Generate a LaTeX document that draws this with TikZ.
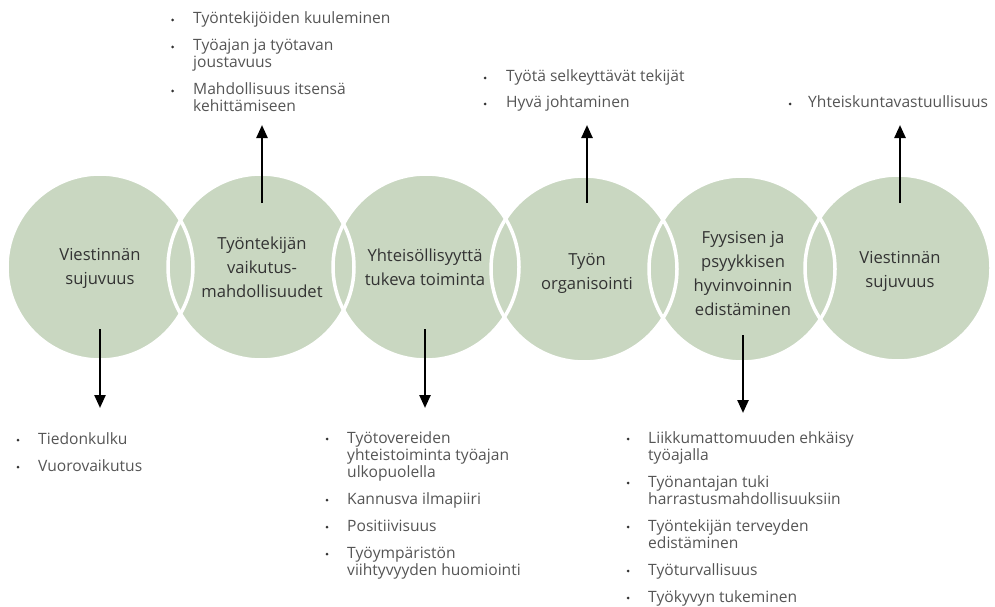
\documentclass[tikz,border=0pt]{standalone}
\usepackage{fontspec}
\setmainfont{Open Sans}
\usetikzlibrary{arrows.meta}
\definecolor{discfill}{HTML}{C9D7C1}
\definecolor{titleink}{HTML}{333333}
\definecolor{listink}{HTML}{555555}
\tikzset{
  disc/.style={circle, fill=discfill, minimum size=186pt, inner sep=0pt},
  rim/.style={draw=white, line width=3.5pt},
  title/.style={align=center, text=titleink, inner sep=0pt, font=\fontsize{16.6}{24}\selectfont},
  entry/.style={anchor=base west, inner sep=0pt, text=listink, font=\fontsize{15.6}{17}\selectfont},
  dot/.style={circle, fill=black!80, minimum size=3pt, inner sep=0pt},
  link/.style={line width=2.4pt, -{Triangle[width=11pt,length=13pt]}},
}
\begin{document}
\begin{tikzpicture}[x=1pt, y=-1pt]
\useasboundingbox (0,0) rectangle (995,607);

% discs: fill first, white rims on top so both arcs of every lens show
\node[disc] (c1) at (100,267) {};
\node[disc] (c2) at (261,267) {};
\node[disc] (c3) at (426,267) {};
\node[disc] (c4) at (584,269) {};
\node[disc] (c5) at (742,269) {};
\node[disc] (c6) at (898,268) {};
\foreach \n in {c1,c2,c3,c4,c5,c6}
  \draw[rim] (\n.center) circle[radius=93];

% disc titles
\node[title] (t1) at (100,268) {Viestinnän\\sujuvuus};
\node[title] (t2) at (262,267) {Työntekijän\\vaikutus-\\mahdollisuudet};
\node[title] (t3) at (425,267) {Yhteisöllisyyttä\\tukeva toiminta};
\node[title] (t4) at (587,273) {Työn\\organisointi};
\node[title] (t5) at (743,273) {Fyysisen ja\\psyykkisen\\hyvinvoinnin\\edistäminen};
\node[title] (t6) at (900,271) {Viestinnän\\sujuvuus};

% arrow ends
\coordinate (a1s) at (100,329); \coordinate (a1e) at (100,408);
\coordinate (a2s) at (262,203); \coordinate (a2e) at (262,125);
\coordinate (a3s) at (425,329); \coordinate (a3e) at (425,408);
\coordinate (a4s) at (587,203); \coordinate (a4e) at (587,125);
\coordinate (a5s) at (743,335); \coordinate (a5e) at (743,413);
\coordinate (a6s) at (900,203); \coordinate (a6e) at (900,125);
\foreach \i in {1,...,6}
  \draw[link] (a\i s) -- (a\i e);

% list above disc 2
\node[dot] (d2a) at (172.5,20) {}; \node[entry] (e2a) at (193,24) {Työntekijöiden kuuleminen};
\node[dot] (d2b) at (172.5,47) {}; \node[entry] (e2b) at (193,51) {Työajan ja työtavan};
\node[entry] (e2c) at (193,68) {joustavuus};
\node[dot] (d2d) at (172.5,91) {}; \node[entry] (e2d) at (193,95) {Mahdollisuus itsensä};
\node[entry] (e2e) at (193,112) {kehittämiseen};

% list above disc 4
\node[dot] (d4a) at (485,78) {}; \node[entry] (e4a) at (506,82) {Työtä selkeyttävät tekijät};
\node[dot] (d4b) at (485,104) {}; \node[entry] (e4b) at (506,108) {Hyvä johtaminen};

% list above disc 6
\node[dot] (d6a) at (790,104) {}; \node[entry] (e6a) at (808,108) {Yhteiskuntavastuullisuus};

% list below disc 1
\node[dot] (d1a) at (18,440) {}; \node[entry] (e1a) at (38,444) {Tiedonkulku};
\node[dot] (d1b) at (18,467) {}; \node[entry] (e1b) at (38,471) {Vuorovaikutus};

% list below disc 3
\node[dot] (d3a) at (327,439) {}; \node[entry] (e3a) at (347,443) {Työtovereiden};
\node[entry] (e3b) at (347,460) {yhteistoiminta työajan};
\node[entry] (e3c) at (347,477) {ulkopuolella};
\node[dot] (d3d) at (327,500) {}; \node[entry] (e3d) at (347,504) {Kannusva ilmapiiri};
\node[dot] (d3e) at (327,527) {}; \node[entry] (e3e) at (347,531) {Positiivisuus};
\node[dot] (d3f) at (327,554) {}; \node[entry] (e3f) at (347,558) {Työympäristön};
\node[entry] (e3g) at (347,575) {viihtyvyyden huomiointi};

% list below disc 5
\node[dot] (d5a) at (628,439) {}; \node[entry] (e5a) at (648,443) {Liikkumattomuuden ehkäisy};
\node[entry] (e5b) at (648,460) {työajalla};
\node[dot] (d5c) at (628,483) {}; \node[entry] (e5c) at (648,487) {Työnantajan tuki};
\node[entry] (e5d) at (648,504) {harrastusmahdollisuuksiin};
\node[dot] (d5e) at (628,527) {}; \node[entry] (e5e) at (648,531) {Työntekijän terveyden};
\node[entry] (e5f) at (648,548) {edistäminen};
\node[dot] (d5g) at (628,571) {}; \node[entry] (e5g) at (648,575) {Työturvallisuus};
\node[dot] (d5h) at (628,598) {}; \node[entry] (e5h) at (648,602) {Työkyvyn tukeminen};
\end{tikzpicture}
\end{document}
